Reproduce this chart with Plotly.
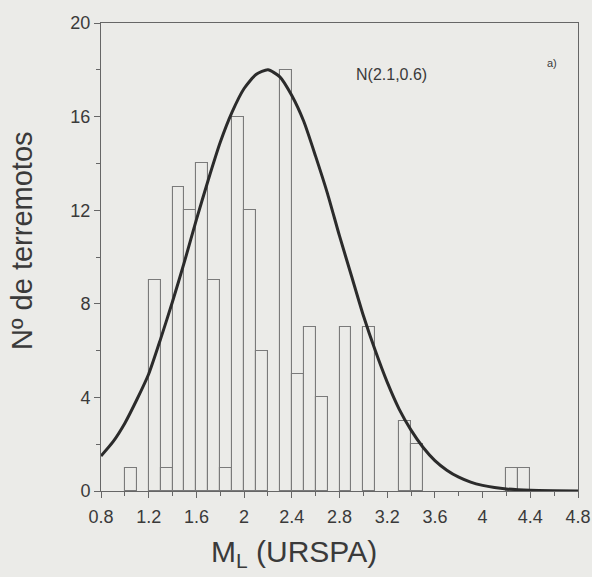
import plotly.graph_objects as go

# Histogram bins (lower edge of each 0.1-wide magnitude bin) and counts
bin_start = [1.0, 1.2, 1.3, 1.4, 1.5, 1.6, 1.7, 1.8, 1.9, 2.0, 2.1, 2.3, 2.4, 2.5, 2.6, 2.8, 3.0, 3.3, 3.4, 4.2, 4.3]
counts    = [1,   9,   1,   13,  12,  14,  9,   1,   16,  12,  6,   18,  5,   7,   4,   7,   7,   3,   2,   1,   1]
bin_width = 0.1

# Fitted normal curve
curve_x = [0.8, 0.9, 1.0, 1.1, 1.2, 1.3, 1.4, 1.5, 1.6, 1.7, 1.8, 1.9, 2.0, 2.1, 2.2, 2.3, 2.4,
           2.5, 2.6, 2.7, 2.8, 2.9, 3.0, 3.1, 3.2, 3.3, 3.4, 3.5, 3.6, 3.7, 3.8, 3.9, 4.0, 4.1,
           4.2, 4.4, 4.6, 4.8]
curve_y = [1.5, 2.1, 2.9, 3.9, 5.0, 6.5, 8.1, 9.8, 11.6, 13.3, 14.9, 16.2, 17.2, 17.8, 18.0, 17.7, 16.9,
           15.8, 14.3, 12.7, 10.9, 9.2, 7.5, 6.0, 4.65, 3.5, 2.6, 1.87, 1.3, 0.89, 0.59, 0.38, 0.24, 0.15,
           0.09, 0.03, 0.01, 0.0]

x_ticks = [0.8, 1.2, 1.6, 2.0, 2.4, 2.8, 3.2, 3.6, 4.0, 4.4, 4.8]
x_tick_text = ["0.8", "1.2", "1.6", "2", "2.4", "2.8", "3.2", "3.6", "4", "4.4", "4.8"]
y_ticks = [0, 4, 8, 12, 16, 20]

BG = "#ebebe8"
AX = "#666666"
TXT = "#3a3a3a"
FONT = "Liberation Sans, Arial, sans-serif"

fig = go.Figure()
fig.add_trace(go.Bar(
    x=[b + bin_width / 2 for b in bin_start],
    y=counts,
    width=bin_width,
    marker=dict(color="rgba(0,0,0,0)", line=dict(color="#7a7a7a", width=1.1)),
    showlegend=False,
))
fig.add_trace(go.Scatter(
    x=curve_x, y=curve_y, mode="lines", line=dict(color="#2b2b2b", width=3, shape="spline", smoothing=0.6),
    showlegend=False,
))

fig.update_layout(
    width=592, height=577,
    margin=dict(l=101, r=14, t=23, b=86),
    paper_bgcolor=BG, plot_bgcolor=BG,
    font=dict(family=FONT, color=TXT),
    bargap=0,
    xaxis=dict(
        range=[0.8, 4.8], tickvals=x_ticks, ticktext=x_tick_text, automargin=False,
        showgrid=False, zeroline=False, showline=True, linecolor=AX, linewidth=1, mirror=True,
        ticks="outside", ticklen=6, tickcolor=AX, ticklabelstandoff=3,
        minor=dict(dtick=0.2, tick0=0.8, ticks="outside", ticklen=4, tickcolor=AX),
        tickfont=dict(size=18, color=TXT),
    ),
    yaxis=dict(
        range=[0, 20], tickvals=y_ticks, automargin=False,
        showgrid=False, zeroline=False, showline=True, linecolor=AX, linewidth=1, mirror=True,
        ticks="outside", ticklen=6, tickcolor=AX,
        minor=dict(dtick=2, tick0=0, ticks="outside", ticklen=4, tickcolor=AX),
        tickfont=dict(size=18, color=TXT),
    ),
    annotations=[
        dict(x=0.405, y=-0.134, xref="paper", yref="paper", text="M<sub>L</sub> (URSPA)", showarrow=False,
             xanchor="center", yanchor="middle", font=dict(size=30, color=TXT)),
        dict(x=-0.166, y=0.536, xref="paper", yref="paper", text="Nº de terremotos", showarrow=False,
             textangle=-90, xanchor="center", yanchor="middle", font=dict(size=29, color=TXT)),
        dict(x=2.92, y=17.8, xref="x", yref="y", text="N(2.1,0.6)", showarrow=False,
             xanchor="left", yanchor="middle", font=dict(size=16, color=TXT)),
        dict(x=4.52, y=18.3, xref="x", yref="y", text="a)", showarrow=False,
             xanchor="left", yanchor="middle", font=dict(size=11, color=TXT)),
    ],
)

fig.write_html("out.html")
